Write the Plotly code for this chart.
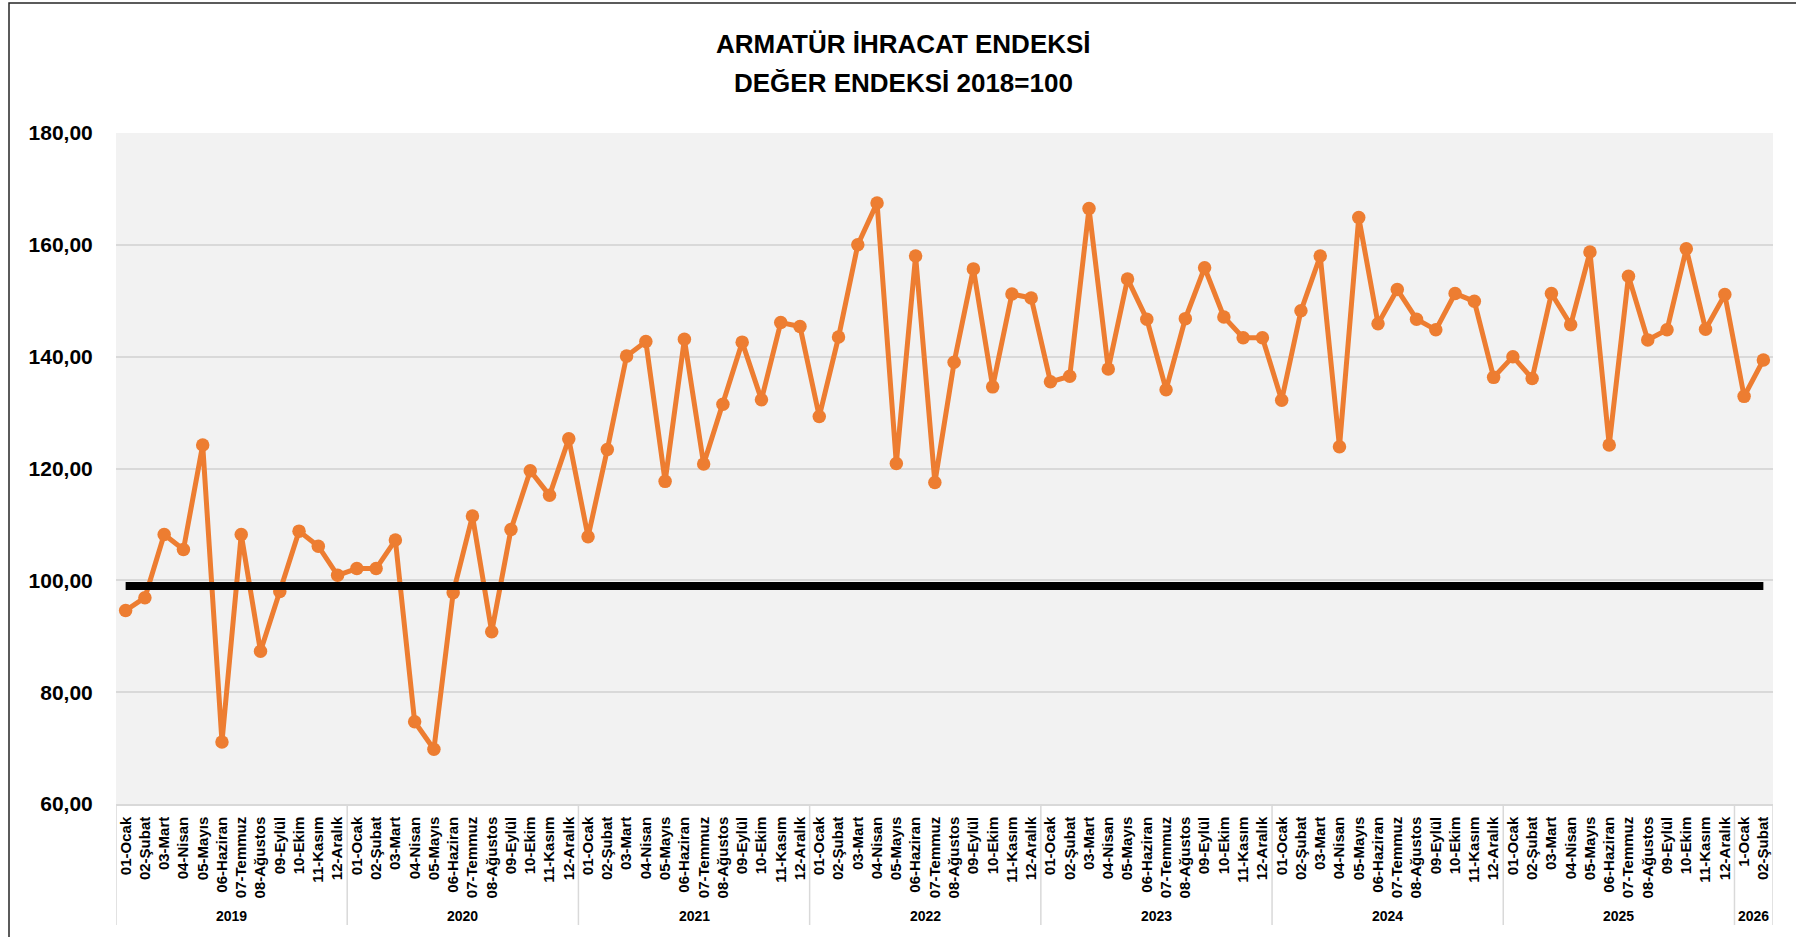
import plotly.graph_objects as go

# ---- data ----
years = ["2019", "2020", "2021", "2022", "2023", "2024", "2025", "2026"]
month_labels = ["01-Ocak", "02-Şubat", "03-Mart", "04-Nisan", "05-Mayıs", "06-Haziran",
                "07-Temmuz", "08-Ağustos", "09-Eylül", "10-Ekim", "11-Kasım", "12-Aralık"]
month_labels_2026 = ["1-Ocak", "02-Şubat"]

values_2019 = [94.6, 96.9, 108.2, 105.5, 124.2, 71.1, 108.2, 87.3, 98.0, 108.8, 106.1, 100.9]
values_2020 = [102.1, 102.1, 107.2, 74.7, 69.8, 97.8, 111.5, 90.8, 109.1, 119.6, 115.2, 125.3]
values_2021 = [107.8, 123.4, 140.1, 142.7, 117.7, 143.1, 120.8, 131.5, 142.6, 132.3, 146.1, 145.4]
values_2022 = [129.3, 143.5, 160.0, 167.5, 120.9, 158.0, 117.5, 139.0, 155.7, 134.6, 151.2, 150.5]
values_2023 = [135.5, 136.5, 166.5, 137.8, 153.9, 146.7, 134.1, 146.8, 155.9, 147.1, 143.4, 143.4]
values_2024 = [132.2, 148.2, 158.0, 123.9, 164.9, 145.9, 152.0, 146.7, 144.8, 151.3, 149.9, 136.3]
values_2025 = [140.0, 136.1, 151.3, 145.7, 158.7, 124.2, 154.4, 143.0, 144.8, 159.3, 144.9, 151.1]
values_2026 = [132.9, 139.4]

reference_level = 99.0

y_ticks = [60, 80, 100, 120, 140, 160, 180]

title_line1 = "ARMATÜR İHRACAT ENDEKSİ"
title_line2 = "DEĞER ENDEKSİ 2018=100"

# ---- build category positions ----
per_year_values = [values_2019, values_2020, values_2021, values_2022,
                   values_2023, values_2024, values_2025, values_2026]
x_month, y_vals, groups = [], [], []
for yr, vals in zip(years, per_year_values):
    labels = month_labels_2026 if yr == "2026" else month_labels
    start = len(x_month)
    for m, v in zip(labels, vals):
        x_month.append(m)
        y_vals.append(v)
    groups.append((yr, start, len(x_month) - start))
x_idx = list(range(len(x_month)))
n = len(x_idx)

ORANGE = "#ED7D31"
GRID = "#D9D9D9"
FONT = "Liberation Sans"

W, H = 1796, 937
L, R, T, B = 116, 23, 133, 133
pw, ph = W - L - R, H - T - B


def py(px_y):
    """pixel row -> paper y"""
    return (H - B - px_y) / ph


fig = go.Figure()
fig.add_trace(go.Scatter(
    x=x_idx, y=y_vals, mode="lines+markers",
    line=dict(color=ORANGE, width=5),
    marker=dict(color=ORANGE, size=13.5),
    customdata=x_month, hovertemplate="%{customdata}: %{y:.2f}<extra></extra>",
    name="Değer Endeksi", showlegend=False,
))
fig.add_trace(go.Scatter(
    x=x_idx, y=[reference_level] * n, mode="lines",
    line=dict(color="#000000", width=8),
    name="Referans", showlegend=False, hoverinfo="skip",
))

annotations = [
    dict(text=title_line1, xref="paper", yref="paper", x=(903 - L) / pw, y=py(44),
         xanchor="center", yanchor="middle", showarrow=False,
         font=dict(family=FONT, size=26, color="black", weight="bold")),
    dict(text=title_line2, xref="paper", yref="paper", x=(903 - L) / pw, y=py(83),
         xanchor="center", yanchor="middle", showarrow=False,
         font=dict(family=FONT, size=26, color="black", weight="bold")),
]
shapes = []
for yr, start, count in groups:
    annotations.append(dict(
        text=yr, xref="x", yref="paper", x=start + (count - 1) / 2, y=py(916),
        xanchor="center", yanchor="middle", showarrow=False,
        font=dict(family=FONT, size=14, color="black", weight="bold")))
    shapes.append(dict(type="line", xref="x", yref="paper",
                       x0=start - 0.5, x1=start - 0.5, y0=0, y1=py(925),
                       line=dict(color=GRID, width=1.5)))
shapes.append(dict(type="line", xref="x", yref="paper",
                   x0=n - 0.5, x1=n - 0.5, y0=0, y1=py(925),
                   line=dict(color=GRID, width=1.5)))
shapes.append(dict(
    type="rect", xref="paper", yref="paper",
    x0=(9 - L) / pw, x1=1.2, y0=-0.4, y1=py(3),
    line=dict(color="#262626", width=1.5), fillcolor="rgba(0,0,0,0)",
    layer="above",
))

fig.update_layout(
    width=W, height=H,
    margin=dict(l=L, r=R, t=T, b=B, pad=0),
    paper_bgcolor="white",
    plot_bgcolor="#F2F2F2",
    separators=",.",
    font=dict(family=FONT, color="black"),
    xaxis=dict(
        range=[-0.5, n - 0.5],
        tickvals=x_idx, ticktext=x_month,
        tickangle=-90,
        tickfont=dict(family=FONT, size=15, color="black", weight="bold"),
        showline=True, linecolor=GRID, linewidth=1.5,
        showgrid=False, zeroline=False,
        ticks="outside", ticklen=5, tickcolor="rgba(0,0,0,0)",
        fixedrange=True,
    ),
    yaxis=dict(
        range=[60, 180], tickvals=y_ticks, tickformat=".2f",
        tickfont=dict(family=FONT, size=21, color="black", weight="bold"),
        showgrid=True, gridcolor=GRID, gridwidth=1.5,
        zeroline=False, showline=False,
        ticks="outside", ticklen=18, tickcolor="rgba(0,0,0,0)",
        fixedrange=True,
    ),
    annotations=annotations,
    shapes=shapes,
)

fig.write_html("out.html", config={"displayModeBar": False},
               post_script="document.body.style.margin='0';document.body.style.overflow='hidden';")
